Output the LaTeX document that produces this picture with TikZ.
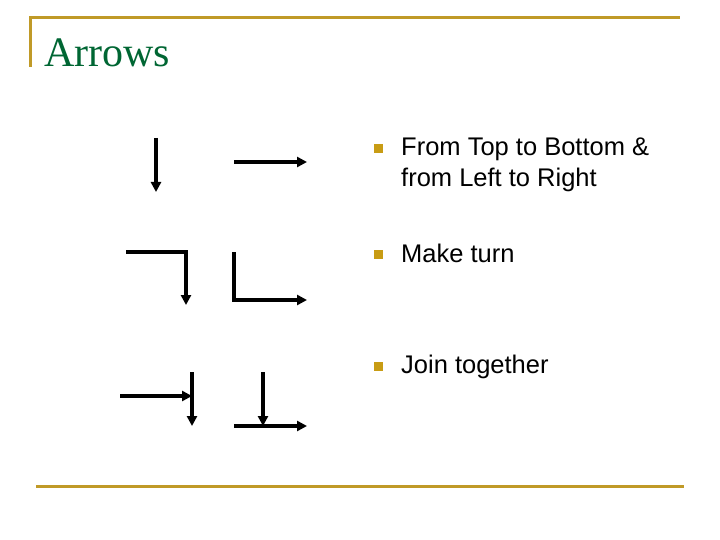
\documentclass[tikz,border=0pt]{standalone}
\usepackage{fontspec}
\setmainfont{Liberation Serif}
\newfontfamily\arialf{Liberation Sans}
\usetikzlibrary{arrows.meta}
\definecolor{gold}{RGB}{192,154,40}
\definecolor{bulletc}{RGB}{200,156,20}
\definecolor{titlegreen}{RGB}{0,102,51}
\tikzset{
  frame/.style={draw=gold, line width=3pt},
  arr/.style={line width=3.4pt, -{Triangle[length=10pt,width=10pt]}},
  bul/.style={fill=bulletc, draw=none, minimum size=9pt, inner sep=0pt},
  txt/.style={anchor=base west, inner sep=0pt, font=\arialf\fontsize{25.5}{31}\selectfont}
}
\begin{document}
\begin{tikzpicture}[x=1pt,y=-1pt]
\useasboundingbox (0,0) rectangle (720,540);
% frame
\coordinate (fa) at (30,66);
\coordinate (fb) at (30,18);
\coordinate (fc) at (678,18);
\draw[frame, line cap=rect] (fa) -- (fb) -- (fc);
\coordinate (ga) at (36,486);
\coordinate (gb) at (684,486);
\draw[frame] (ga) -- (gb);
\node[anchor=base west, inner sep=0pt, text=titlegreen, font=\fontsize{42}{48}\selectfont] (title) at (44,67) {Arrows};
% arrow 1
\coordinate (a1s) at (156,138);
\coordinate (a1e) at (156,192);
\draw[arr] (a1s) -- (a1e);
% arrow 2
\coordinate (a2s) at (234,162);
\coordinate (a2e) at (307,162);
\draw[arr] (a2s) -- (a2e);
% arrow 3
\coordinate (a3s) at (126,252);
\coordinate (a3c) at (186,252);
\coordinate (a3e) at (186,305);
\draw[arr, line join=miter] (a3s) -- (a3c) -- (a3e);
% arrow 4
\coordinate (a4s) at (234,252);
\coordinate (a4c) at (234,300);
\coordinate (a4e) at (307,300);
\draw[arr, line join=miter] (a4s) -- (a4c) -- (a4e);
% arrow 5
\coordinate (a5s) at (120,396);
\coordinate (a5e) at (192,396);
\coordinate (a5t) at (192,372);
\coordinate (a5b) at (192,426);
\draw[arr] (a5s) -- (a5e);
\draw[arr] (a5t) -- (a5b);
% arrow 6
\coordinate (a6t) at (263,372);
\coordinate (a6b) at (263,426);
\coordinate (a6s) at (234,426);
\coordinate (a6e) at (307,426);
\draw[arr] (a6t) -- (a6b);
\draw[arr] (a6s) -- (a6e);
% bullets
\node[bul] (b1) at (378.5,148.5) {};
\node[bul] (b2) at (378.5,254.5) {};
\node[bul] (b3) at (378.5,366.5) {};
\node[txt] (t1) at (401,156) {From Top to Bottom \&};
\node[txt] (t1b) at (401,187) {from Left to Right};
\node[txt] (t2) at (401,262) {Make turn};
\node[txt] (t3) at (401,373) {Join together};
\end{tikzpicture}
\end{document}
